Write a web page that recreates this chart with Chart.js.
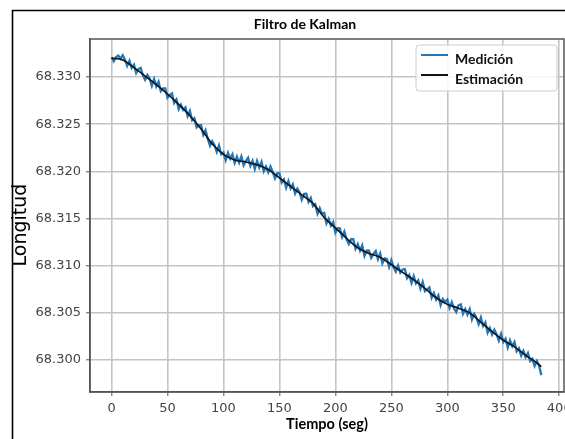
<!DOCTYPE html>
<html><head><meta charset="utf-8">
<script src="https://cdn.jsdelivr.net/npm/chart.js@4.4.0/dist/chart.umd.min.js"></script>
<style>html,body{margin:0;padding:0;background:#fff;}#wrap{width:565px;height:439px;}</style>
</head><body><div id="wrap"><canvas id="c" width="565" height="439"></canvas></div>
<script>
const chartTitle = 'Filtro de Kalman';
const xTitle = 'Tiempo (seg)';
const yTitle = 'Longitud';
const seriesNames = ['Medición', 'Estimación'];
const xTicks = [0, 50, 100, 150, 200, 250, 300, 350, 400];
const yTicks = [68.300, 68.305, 68.310, 68.315, 68.320, 68.325, 68.330];

const measTime = [0,2,4,6,8,10,12,14,16,18,20,22,24,26,28,30,32,34,36,38,40,42,44,46,48,50,52,54,56,58,60,62,64,66,68,70,72,74,76,78,80,82,84,86,88,90,92,94,96,98,100,102,104,106,108,110,112,114,116,118,120,122,124,126,128,130,132,134,136,138,140,142,144,146,148,150,152,154,156,158,160,162,164,166,168,170,172,174,176,178,180,182,184,186,188,190,192,194,196,198,200,202,204,206,208,210,212,214,216,218,220,222,224,226,228,230,232,234,236,238,240,242,244,246,248,250,252,254,256,258,260,262,264,266,268,270,272,274,276,278,280,282,284,286,288,290,292,294,296,298,300,302,304,306,308,310,312,314,316,318,320,322,324,326,328,330,332,334,336,338,340,342,344,346,348,350,352,354,356,358,360,362,364,366,368,370,372,374,376,378,380,382,384];
const measValues = [
68.33210,68.33166,68.33212,68.33228,68.33194,
68.33230,68.33184,68.33118,68.33172,68.33096,
68.33130,68.33042,68.33084,68.33096,68.33018,
68.32970,68.33022,68.32984,68.32906,68.32978,
68.32900,68.32950,68.32850,68.32880,68.32880,
68.32780,68.32808,68.32826,68.32724,68.32762,
68.32660,68.32706,68.32652,68.32678,68.32584,
68.32640,68.32542,68.32564,68.32466,68.32488,
68.32490,68.32388,68.32436,68.32344,68.32272,
68.32320,68.32278,68.32206,68.32274,68.32182,
68.32200,68.32118,68.32196,68.32134,68.32182,
68.32090,68.32156,68.32092,68.32158,68.32064,
68.32110,68.32144,68.32058,68.32112,68.32026,
68.32110,68.32040,68.32100,68.32000,68.32050,
68.31990,68.32052,68.31994,68.31926,68.31978,
68.31980,68.31882,68.31914,68.31826,68.31898,
68.31820,68.31862,68.31764,68.31816,68.31778,
68.31700,68.31762,68.31764,68.31676,68.31718,
68.31630,68.31650,68.31550,68.31610,68.31550,
68.31560,68.31448,68.31496,68.31424,68.31462,
68.31350,68.31398,68.31396,68.31304,68.31362,
68.31280,68.31230,68.31280,68.31280,68.31180,
68.31230,68.31158,68.31216,68.31104,68.31162,
68.31160,68.31082,68.31124,68.31156,68.31068,
68.31130,68.31024,68.31078,68.31072,68.30986,
68.31060,68.30984,68.30938,68.31002,68.30926,
68.30960,68.30964,68.30868,68.30902,68.30816,
68.30890,68.30812,68.30844,68.30756,68.30828,
68.30730,68.30750,68.30770,68.30660,68.30710,
68.30640,68.30686,68.30582,68.30648,68.30614,
68.30640,68.30552,68.30614,68.30546,68.30508,
68.30580,68.30590,68.30490,68.30540,68.30480,
68.30540,68.30430,68.30490,68.30450,68.30380,
68.30450,68.30360,68.30400,68.30290,68.30340,
68.30270,68.30322,68.30274,68.30206,68.30278,
68.30190,68.30226,68.30132,68.30208,68.30144,
68.30190,68.30092,68.30124,68.30046,68.30098,
68.30030,68.30074,68.29988,68.30012,68.29936,
68.29990,68.29940,68.29840];

const estTime = [0,10,20,30,40,50,60,70,80,90,100,110,120,130,140,150,160,170,180,190,200,210,220,230,240,250,260,270,280,290,300,310,320,330,340,350,360,370,380,384];
const estValues = [68.3320,68.3318,68.3310,68.3301,68.3292,68.3282,68.3271,68.3259,68.3245,68.3229,
68.3218,68.3212,68.3210,68.3207,68.3202,68.3193,68.3184,68.3175,68.3166,68.3151,
68.3140,68.3129,68.3119,68.3113,68.3109,68.3101,68.3093,68.3085,68.3076,68.3066,
68.3059,68.3055,68.3050,68.3040,68.3030,68.3021,68.3014,68.3005,68.2997,68.2993];

const xMin = -19.25, xMax = 404.25;
const yMin = 68.29661, yMax = 68.33403;

const decor = {
  id: 'decor',
  beforeDraw(chart) {
    const ctx = chart.ctx;
    ctx.save(); ctx.fillStyle = '#fff'; ctx.fillRect(0, 0, chart.width, chart.height); ctx.restore();
  },
  afterDraw(chart) {
    const {ctx, chartArea: a} = chart;
    ctx.save();
    ctx.strokeStyle = '#555'; ctx.lineWidth = 1.5;
    ctx.strokeRect(a.left, a.top, a.right - a.left, a.bottom - a.top);
    ctx.strokeStyle = '#000'; ctx.lineWidth = 1.6;
    ctx.beginPath(); ctx.moveTo(12.5, 439); ctx.lineTo(12.5, 10.5); ctx.lineTo(565, 10.5); ctx.stroke();
    ctx.fillStyle = '#000'; ctx.font = 'bold 14px Lato'; ctx.textAlign = 'center'; ctx.textBaseline = 'middle';
    ctx.fillText(chartTitle, 305, 24);
    // y axis title, drawn centred where the reference shows it
    ctx.save();
    ctx.translate(21, 225); ctx.rotate(-Math.PI / 2);
    ctx.font = '19px "DejaVu Sans"'; ctx.fillStyle = '#000';
    ctx.fillText(yTitle, 0, 0);
    ctx.restore();
    // legend
    const bw = 141, bh = 46;
    const bx = a.right - 7 - bw, by = a.top + 6;
    ctx.beginPath();
    if (ctx.roundRect) ctx.roundRect(bx, by, bw, bh, 3); else ctx.rect(bx, by, bw, bh);
    ctx.fillStyle = 'rgba(255,255,255,0.85)'; ctx.fill();
    ctx.strokeStyle = '#cccccc'; ctx.lineWidth = 1; ctx.stroke();
    chart.data.datasets.forEach((ds, i) => {
      const yy = by + 10 + i * 20;
      ctx.strokeStyle = ds.borderColor; ctx.lineWidth = 2;
      ctx.beginPath(); ctx.moveTo(bx + 5, yy); ctx.lineTo(bx + 32, yy); ctx.stroke();
      ctx.fillStyle = '#111'; ctx.font = 'bold 14px Lato'; ctx.textAlign = 'left'; ctx.textBaseline = 'middle';
      ctx.fillText(ds.label, bx + 39, yy + 4);
    });
    ctx.restore();
  }
};

new Chart(document.getElementById('c'), {
  type: 'line',
  data: {
    datasets: [
      { label: seriesNames[0], data: measTime.map((t, i) => ({x: t, y: measValues[i]})),
        borderColor: '#2277b8', borderWidth: 2.3, pointRadius: 0, tension: 0, order: 1 },
      { label: seriesNames[1], data: estTime.map((t, i) => ({x: t, y: estValues[i]})),
        borderColor: '#111111', borderWidth: 1.6, pointRadius: 0, cubicInterpolationMode: 'monotone', order: 0 }
    ]
  },
  options: {
    responsive: false, animation: false, devicePixelRatio: 1,
    layout: { padding: { left: 8, right: 1, top: 39, bottom: 0 } },
    plugins: { legend: { display: false }, title: { display: false }, tooltip: { enabled: false } },
    scales: {
      x: {
        type: 'linear', min: xMin, max: xMax,
        afterBuildTicks: s => { s.ticks = xTicks.map(v => ({value: v})); },
        afterFit: s => { s.height = 47; s.paddingLeft = 0; s.paddingRight = 0; },
        ticks: { color: '#444', font: { family: 'DejaVu Sans', size: 13 }, padding: 5, maxRotation: 0, autoSkip: false,
                 callback: v => String(v) },
        grid: { color: '#c4c4c4', lineWidth: 1.6, tickLength: 4, tickColor: '#555', tickWidth: 1 },
        border: { color: '#555', width: 1.5 },
        title: { display: true, text: xTitle, color: '#000', font: { family: 'Lato', size: 14.5, weight: 'bold', lineHeight: 1.2 }, padding: { top: 0, bottom: 6 } }
      },
      y: {
        type: 'linear', min: yMin, max: yMax,
        afterBuildTicks: s => { s.ticks = yTicks.map(v => ({value: v})); },
        afterFit: s => { s.width = 82; s.paddingTop = 0; s.paddingBottom = 0; },
        ticks: { color: '#444', font: { family: 'DejaVu Sans', size: 13 }, padding: 5, autoSkip: false,
                 callback: v => Number(v).toFixed(3) },
        grid: { color: '#c4c4c4', lineWidth: 1.6, tickLength: 4, tickColor: '#555', tickWidth: 1 },
        border: { color: '#555', width: 1.5 },
        title: { display: false, text: yTitle }
      }
    }
  },
  plugins: [decor]
});
</script></body></html>
